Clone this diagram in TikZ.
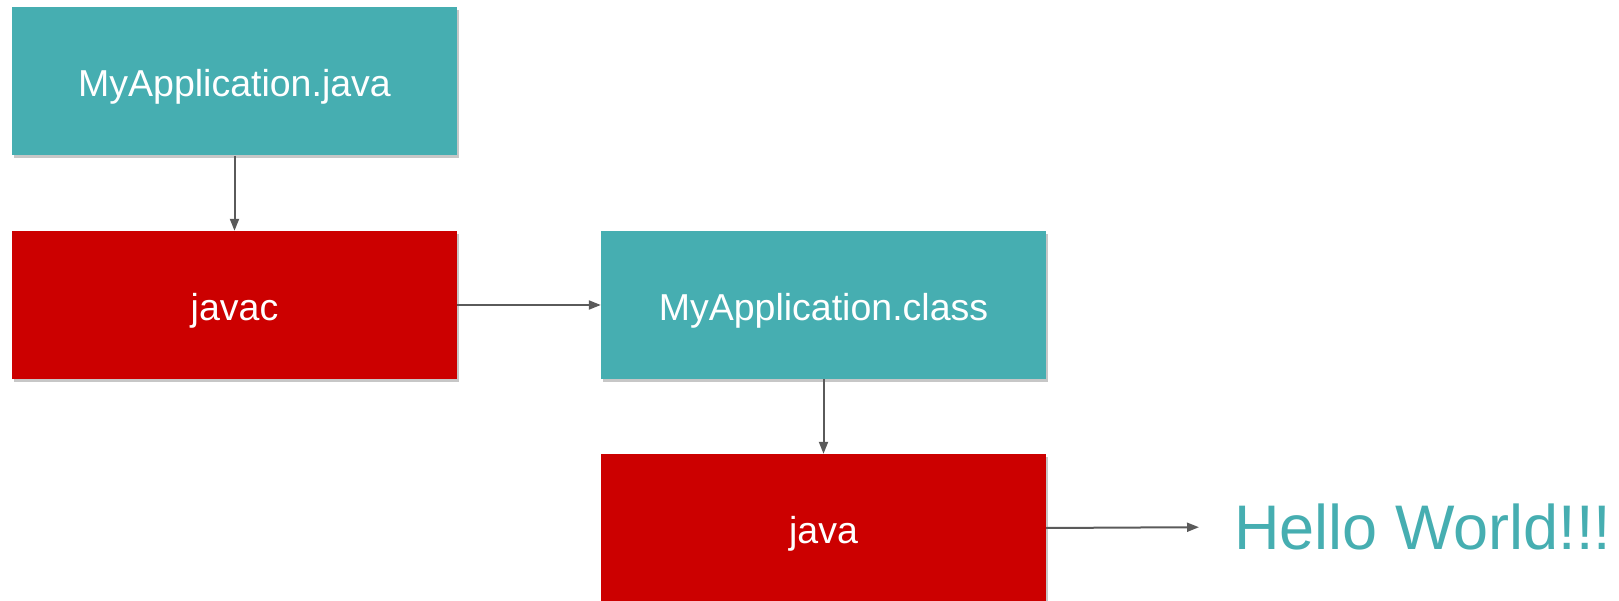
\documentclass[tikz,border=0pt]{standalone}
\usepackage{fontspec}
\setmainfont{Liberation Sans}
\usepackage{tikz}
\usetikzlibrary{arrows.meta,shadows}
\definecolor{tealbox}{HTML}{46AEB1}
\definecolor{redbox}{HTML}{CC0000}
\definecolor{linkgray}{HTML}{5A5A5A}
\tikzset{
  box/.style={minimum width=445pt, minimum height=148pt, inner sep=0pt, text=white,
    font=\fontsize{37.5}{45}\selectfont, text height=36pt, text depth=5pt,
    drop shadow={shadow xshift=1.5pt, shadow yshift=-3pt, opacity=.22, fill=black}},
  srcbox/.style={box, fill=tealbox},
  toolbox/.style={box, fill=redbox},
  link/.style={draw=linkgray, line width=2pt, -{Triangle[length=12pt,width=9pt]}}
}
\begin{document}
\begin{tikzpicture}[x=1pt,y=1pt]
\useasboundingbox (0,0) rectangle (1619,-601);
\node[srcbox] (source) at (234.5,-81.5) {MyApplication.java};
\node[toolbox] (javac) at (234.5,-305) {javac};
\node[srcbox] (bytecode) at (823.5,-305) {MyApplication.class};
\node[toolbox] (java) at (823.5,-528) {java};
\node[anchor=west, inner sep=0pt, text=tealbox, font=\fontsize{63}{70}\selectfont] (output) at (1234,-527) {Hello World!!!};
\draw[link] (source) -- (javac);
\draw[link] (javac) -- (bytecode);
\draw[link] (bytecode) -- (java);
\draw[link, shorten >=35pt] (java.east) -- (output.west);
\end{tikzpicture}
\end{document}
